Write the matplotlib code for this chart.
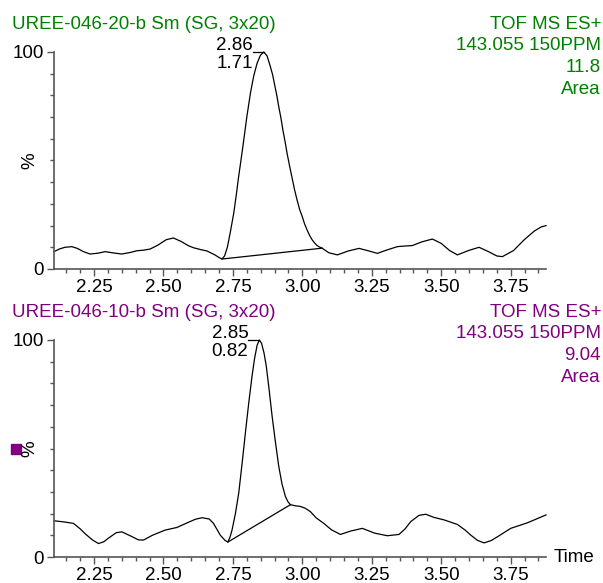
import matplotlib
matplotlib.use("Agg")
import matplotlib.pyplot as plt
from matplotlib.ticker import MultipleLocator, FixedLocator

plt.rcParams["font.family"] = ["Liberation Sans", "DejaVu Sans"]

GREEN = "#008000"
PURPLE = "#800080"
FS = 13.5

# trace 1: UREE-046-20-b, (time, relative %)
t_top = [2.106, 2.125, 2.145, 2.170, 2.190, 2.212, 2.236, 2.265, 2.290, 2.320,
         2.350, 2.380, 2.404, 2.430, 2.452, 2.480, 2.510, 2.536, 2.565, 2.590,
         2.608, 2.635, 2.657, 2.685, 2.700, 2.711, 2.720, 2.730, 2.740, 2.753,
         2.762, 2.770, 2.780, 2.789, 2.800, 2.813, 2.825, 2.837, 2.849, 2.861,
         2.873, 2.885, 2.893, 2.900, 2.908, 2.915, 2.923, 2.930, 2.938, 2.945,
         2.954, 2.963, 2.972, 2.981, 2.990, 3.000, 3.008, 3.017, 3.026, 3.035,
         3.044, 3.053, 3.062, 3.071, 3.095, 3.126, 3.165, 3.204, 3.240, 3.270,
         3.305, 3.342, 3.370, 3.396, 3.430, 3.468, 3.500, 3.530, 3.558, 3.600,
         3.636, 3.670, 3.700, 3.720, 3.760, 3.798, 3.835, 3.860, 3.877]
y_top = [8.0, 9.2, 10.0, 10.3, 9.5, 8.0, 6.9, 7.3, 8.0, 7.4,
         6.9, 7.6, 8.4, 8.7, 9.2, 11.0, 13.5, 14.3, 12.6, 10.7,
         9.8, 8.9, 8.3, 6.5, 5.3, 4.6, 6.0, 10.0, 16.5, 25.7,
         34.0, 42.0, 51.0, 59.4, 70.0, 81.0, 89.0, 94.8, 98.5, 100.0,
         98.2, 93.2, 89.5, 85.0, 80.0, 74.8, 69.5, 64.0, 58.5, 53.3,
         47.5, 42.0, 36.5, 31.8, 27.5, 24.0, 20.8, 18.0, 15.5, 13.5,
         12.0, 10.8, 10.1, 9.6, 7.5, 6.5, 8.3, 9.5, 8.3, 7.2,
         8.8, 10.3, 10.6, 10.8, 12.5, 13.8, 11.8, 8.5, 6.5, 8.6,
         10.0, 8.0, 6.0, 5.7, 8.5, 13.4, 17.5, 19.4, 20.0]
base_top_t = [2.711, 3.071]
base_top_y = [4.6, 9.6]

# trace 2: UREE-046-10-b
t_bot = [2.106, 2.140, 2.176, 2.200, 2.220, 2.245, 2.266, 2.285, 2.300, 2.330,
         2.350, 2.380, 2.410, 2.428, 2.460, 2.506, 2.548, 2.590, 2.615, 2.639,
         2.665, 2.680, 2.705, 2.722, 2.732, 2.740, 2.747, 2.759, 2.771, 2.783,
         2.795, 2.807, 2.819, 2.828, 2.837, 2.845, 2.853, 2.862, 2.870, 2.880,
         2.891, 2.903, 2.915, 2.927, 2.939, 2.948, 2.957, 2.975, 2.993, 3.010,
         3.029, 3.050, 3.077, 3.105, 3.137, 3.175, 3.216, 3.260, 3.306, 3.348,
         3.370, 3.390, 3.420, 3.444, 3.475, 3.510, 3.558, 3.585, 3.606, 3.630,
         3.654, 3.680, 3.702, 3.750, 3.811, 3.877]
y_bot = [16.7, 16.2, 15.5, 13.0, 10.5, 7.8, 6.2, 7.0, 8.5, 11.2,
         11.6, 9.8, 7.9, 7.8, 10.0, 12.4, 13.6, 16.0, 17.4, 18.1,
         17.5, 15.5, 10.0, 7.6, 6.9, 9.3, 12.5, 20.0, 29.5, 43.0,
         57.3, 71.0, 83.5, 91.5, 97.5, 100.0, 98.5, 94.0, 88.1, 77.5,
         65.0, 53.0, 41.8, 33.5, 27.9, 25.5, 24.1, 23.6, 23.3, 22.5,
         20.9, 18.0, 15.5, 12.5, 10.4, 12.0, 13.2, 11.0, 9.8, 10.4,
         13.0, 16.3, 19.2, 19.7, 18.2, 17.1, 15.0, 12.5, 10.1, 7.7,
         6.5, 7.6, 9.3, 13.2, 15.8, 19.4]
base_bot_t = [2.732, 2.957]
base_bot_y = [6.9, 24.1]

panels = [
    dict(name="UREE-046-20-b Sm (SG, 3x20)", color=GREEN, t=t_top, y=y_top,
         bt=base_top_t, by=base_top_y, apex=("2.86", "1.71"),
         info=["TOF MS ES+", "143.055 150PPM", "11.8", "Area"]),
    dict(name="UREE-046-10-b Sm (SG, 3x20)", color=PURPLE, t=t_bot, y=y_bot,
         bt=base_bot_t, by=base_bot_y, apex=("2.85", "0.82"),
         info=["TOF MS ES+", "143.055 150PPM", "9.04", "Area"]),
]

W, H = 603, 583
fig = plt.figure(figsize=(W / 100, H / 100), dpi=100)

# axes boxes in pixels: (left, top-of-100, bottom-of-0)
boxes = [(54, 52, 269), (54, 340, 557)]
right = 546

for p, (l, top, bot) in zip(panels, boxes):
    ax = fig.add_axes([l / W, 1 - bot / H, (right - l) / W, (bot - top) / H])
    ax.plot(p["t"], p["y"], color="black", lw=0.9, clip_on=False)
    ax.plot(p["bt"], p["by"], color="black", lw=0.9)
    ax.set_xlim(2.106, 3.877)
    ax.set_ylim(0, 100)

    for s in ("top", "right"):
        ax.spines[s].set_visible(False)
    for s in ("left", "bottom"):
        ax.spines[s].set_color("#555555")
        ax.spines[s].set_linewidth(1.2)

    ax.xaxis.set_major_locator(FixedLocator([2.25, 2.50, 2.75, 3.00, 3.25, 3.50, 3.75]))
    ax.xaxis.set_minor_locator(MultipleLocator(0.05))
    ax.yaxis.set_major_locator(FixedLocator([0, 100]))
    ax.yaxis.set_minor_locator(MultipleLocator(10))
    ax.set_xticklabels(["2.25", "2.50", "2.75", "3.00", "3.25", "3.50", "3.75"])
    ax.set_yticklabels(["0", "100"])
    ax.tick_params(which="major", length=5, width=1, color="#555555",
                   labelsize=FS, pad=2.5)
    ax.tick_params(which="minor", length=3.2, width=1, color="#555555")

    ax.text(-0.049, 0.5, "%", transform=ax.transAxes, rotation=90,
            ha="center", va="center", fontsize=FS)

    # apex label
    i = p["y"].index(max(p["y"]))
    ta = p["t"][i]
    dx = 11 / 277.3
    ax.plot([ta - dx, ta], [100, 100], color="black", lw=0.9, clip_on=False)
    ax.annotate(p["apex"][0], (ta - dx, 100), xytext=(0, 2.5),
                textcoords="offset pixels", ha="right", va="baseline", fontsize=FS)
    ax.annotate(p["apex"][1], (ta - dx, 100), xytext=(0, -15.5),
                textcoords="offset pixels", ha="right", va="baseline", fontsize=FS)

    # header texts
    fig.text(12 / W, 1 - (top - 23) / H, p["name"], color=p["color"],
             ha="left", va="baseline", fontsize=FS)
    for k, line in enumerate(p["info"]):
        fig.text(601 / W, 1 - (top - 23 + 21.5 * k) / H, line, color=p["color"],
                 ha="right", va="baseline", fontsize=FS)

    last_ax = ax

last_ax.text(1.016, 0, "Time", transform=last_ax.transAxes, ha="left",
             va="center", fontsize=FS)
last_ax.plot([-0.077], [0.5], marker="s", markersize=7, color=PURPLE,
             transform=last_ax.transAxes, clip_on=False)

fig.savefig("out.png", dpi=100)
